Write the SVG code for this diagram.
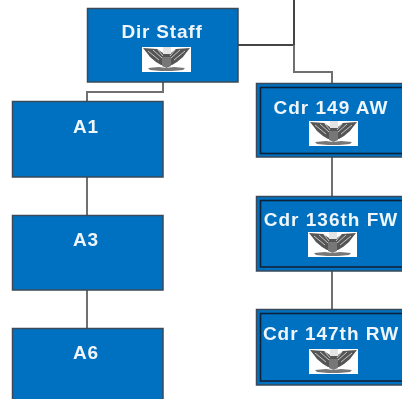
<svg xmlns="http://www.w3.org/2000/svg" width="402" height="399" viewBox="0 0 402 399">
<style>
.box{fill:#0070c0;stroke:#3a4a58;stroke-width:1.5}
.inner{fill:none;stroke:#0a2238;stroke-width:1.6}
.lbl{font-family:"Liberation Sans",Arial,sans-serif;font-weight:700;font-size:19px;fill:#eef5fb;text-anchor:middle;letter-spacing:.8px}
.wide{letter-spacing:1px}
.conn{fill:none;stroke:#6f6f6f;stroke-width:2}
.conn2{fill:none;stroke:#454545;stroke-width:2}
</style>
<defs>
<filter id="soft" x="-2%" y="-2%" width="104%" height="104%"><feGaussianBlur stdDeviation="0.45"/></filter>
<g id="eagle">
<rect width="49" height="25" fill="#fff"/>
<path d="M1 1 L15 2 L21 6 L23 1 L27 1 L29 6 L34 2 L48 1 L44 6 L41 10 L35 15 L30 18 L19 18 L14 15 L8 10 L5 6Z" fill="#555"/>
<path d="M21 0 H29 V7 H21Z" fill="#e4e4e4"/>
<path d="M20 10 H29 V19 L24.500 21 L20 19Z" fill="#777"/>
<path d="M6 21 L17 20 L24 21 L32 20 L43 21 L41 23 L30 24 L19 24 L8 23Z" fill="#777"/>
<path d="M6 4 L17 13 M11 3 L20 11 M16 3 L21 9 M43 4 L32 13 M38 3 L29 11 M33 3 L28 9" stroke="#c4c4c4" stroke-width="1" fill="none"/>
</g>
</defs>
<g filter="url(#soft)">
<g id="connectors">
<path class="conn2" d="M294 0V45H238"/>
<path class="conn" d="M294 45V72H332V83"/>
<path class="conn" d="M163 82V92H87V101"/>
<path class="conn" d="M87 177V215M87 290V328"/>
<path class="conn" d="M332 157V196M332 271V309"/>
</g>
<g id="dir-staff">
<rect class="box" x="87.500" y="8.500" width="150.500" height="73.500"/>
<text class="lbl" x="162" y="38">Dir Staff</text>
<use href="#eagle" x="142" y="47"/>
</g>
<g id="a1">
<rect class="box" x="12.500" y="101.500" width="150.500" height="75.500"/>
<text class="lbl" x="86" y="133">A1</text>
</g>
<g id="a3">
<rect class="box" x="12.500" y="215.500" width="150.500" height="74.500"/>
<text class="lbl" x="86" y="246">A3</text>
</g>
<g id="a6">
<rect class="box" x="12.500" y="328.500" width="150.500" height="80"/>
<text class="lbl" x="86" y="359">A6</text>
</g>
<g id="cdr-149">
<rect class="box" x="256.500" y="83.500" width="152" height="73.500"/>
<rect class="inner" x="260.500" y="87.500" width="144" height="66"/>
<text class="lbl wide" x="331" y="114">Cdr 149 AW</text>
<use href="#eagle" x="309" y="121"/>
</g>
<g id="cdr-136">
<rect class="box" x="256.500" y="196.500" width="152" height="74.500"/>
<rect class="inner" x="260.500" y="200.500" width="144" height="66.500"/>
<text class="lbl wide" x="331" y="226">Cdr 136th FW</text>
<use href="#eagle" x="308" y="232"/>
</g>
<g id="cdr-147">
<rect class="box" x="256.500" y="309.500" width="152" height="75.500"/>
<rect class="inner" x="260.500" y="313.500" width="144" height="67.500"/>
<text class="lbl wide" x="331" y="340">Cdr 147th RW</text>
<use href="#eagle" x="309" y="349"/>
</g>
</g>
</svg>
